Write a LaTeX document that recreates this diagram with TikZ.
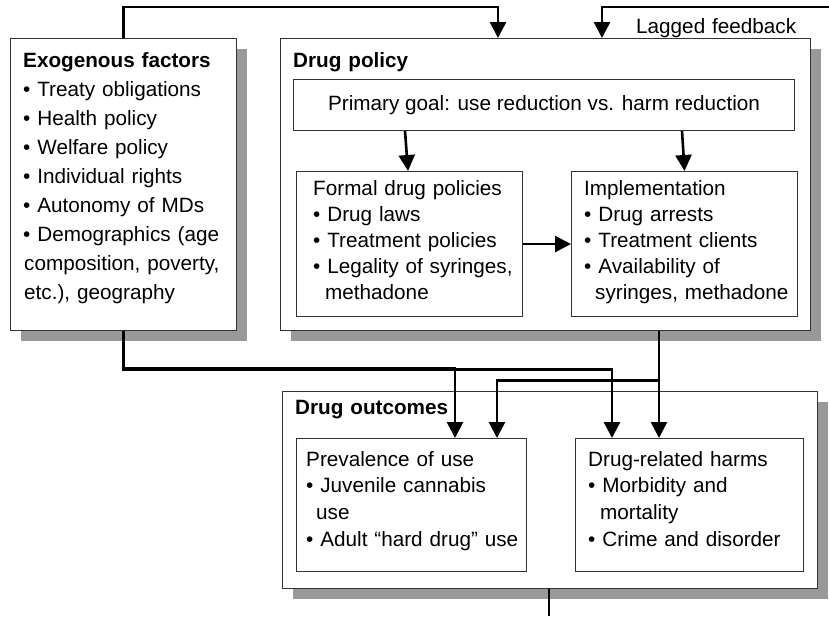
\documentclass[tikz,border=0pt]{standalone}
\usepackage{fontspec}
\setmainfont{Liberation Sans}
\usetikzlibrary{calc,positioning,arrows.meta,shadows}

\begin{document}
\begin{tikzpicture}[x=1pt,y=-1pt,font=\fontsize{20.7}{29}\selectfont]

% \draw[step=50,gray,very thin] (0,0) grid (829,616);

\tikzstyle{bigbox}=[draw=black!80, fill=white, line width=1.2pt, rectangle, anchor=north west, inner sep=0pt, drop shadow={shadow xshift=10pt, shadow yshift=-10pt, fill=black!40, opacity=1}]
\tikzstyle{smallbox}=[draw=black!80, fill=white, line width=1.1pt, rectangle, anchor=north west, inner sep=0pt]
\tikzstyle{txt}=[anchor=base west, inner sep=0pt, align=left, text width=260pt]
\tikzstyle{link}=[line width=2.6pt, -{Triangle[width=16pt,length=16pt]}]

\useasboundingbox (0,0) rectangle (829,616);

\node (exo) [bigbox, minimum width=226pt, minimum height=292pt] at (10,38) {};
\node (policy) [bigbox, minimum width=530pt, minimum height=292pt] at (280,38) {};
\node (outcomes) [bigbox, minimum width=535pt, minimum height=197pt] at (282,391) {};

\node (goal) [smallbox, minimum width=501pt, minimum height=51pt] at (293,79) {Primary goal: use reduction vs. harm reduction};
\node (formal) [smallbox, minimum width=226pt, minimum height=145pt] at (296,171) {};
\node (impl) [smallbox, minimum width=226pt, minimum height=145pt] at (571,171) {};
\node (prev) [smallbox, minimum width=230pt, minimum height=133pt] at (296,438) {};
\node (harms) [smallbox, minimum width=228pt, minimum height=133pt] at (575,438) {};

\node (exotext) [txt] at (23,67) {\textbf{Exogenous factors}\\
• Treaty obligations\\
• Health policy\\
• Welfare policy\\
• Individual rights\\
• Autonomy of MDs\\
• Demographics (age\\
\hspace{1pt}composition, poverty,\\
\hspace{1pt}etc.), geography};
\node (policytitle) [txt] at (293,67) {\textbf{Drug policy}};
\node (lag) [txt] at (636,33) {Lagged feedback};

\node (formaltext) [txt, font=\fontsize{20.7}{26}\selectfont] at (313,195) {Formal drug policies\\
• Drug laws\\
• Treatment policies\\
• Legality of syringes,\\
\hspace{12pt}methadone};
\node (impltext) [txt, font=\fontsize{20.7}{26}\selectfont] at (584,195) {Implementation\\
• Drug arrests\\
• Treatment clients\\
• Availability of\\
\hspace{11pt}syringes, methadone};

\node (outtitle) [txt] at (295,414) {\textbf{Drug outcomes}};
\node (prevtext) [txt, font=\fontsize{20.7}{26.7}\selectfont] at (306,466) {Prevalence of use\\
• Juvenile cannabis\\
\hspace{10pt}use\\
• Adult “hard drug” use};
\node (harmstext) [txt, font=\fontsize{20.7}{26.7}\selectfont] at (588,466) {Drug-related harms\\
• Morbidity and\\
\hspace{12pt}mortality\\
• Crime and disorder};

\draw [link] (exo.north) -- ++(0,-31) -| ([xshift=218pt]policy.north west);
\coordinate (fbin) at (829,7);
\draw [link] (fbin) -| ([xshift=322pt]policy.north west);

\draw [link] ([xshift=112pt]goal.south west) -- ([xshift=112pt]formal.north west);
\draw [link] ([xshift=389pt]goal.south west) -- (impl.north);
\draw [link] (formal.east) -- (impl.west);

\draw [link] (exo.south) -- ++(0,37) -| ([xshift=159pt]prev.north west);
\draw [link] (exo.south) -- ++(0,38) -| ([xshift=37pt]harms.north west);
\draw [link] ([xshift=379pt]policy.south west) -- ([xshift=84pt]harms.north west);
\draw [link] ([xshift=379pt]policy.south west) -- ++(0,49) -| ([xshift=201pt]prev.north west);

\coordinate (fbout) at (549,616);
\draw [line width=2.6pt] ([xshift=267pt]outcomes.south west) -- (fbout);

\end{tikzpicture}
\end{document}
